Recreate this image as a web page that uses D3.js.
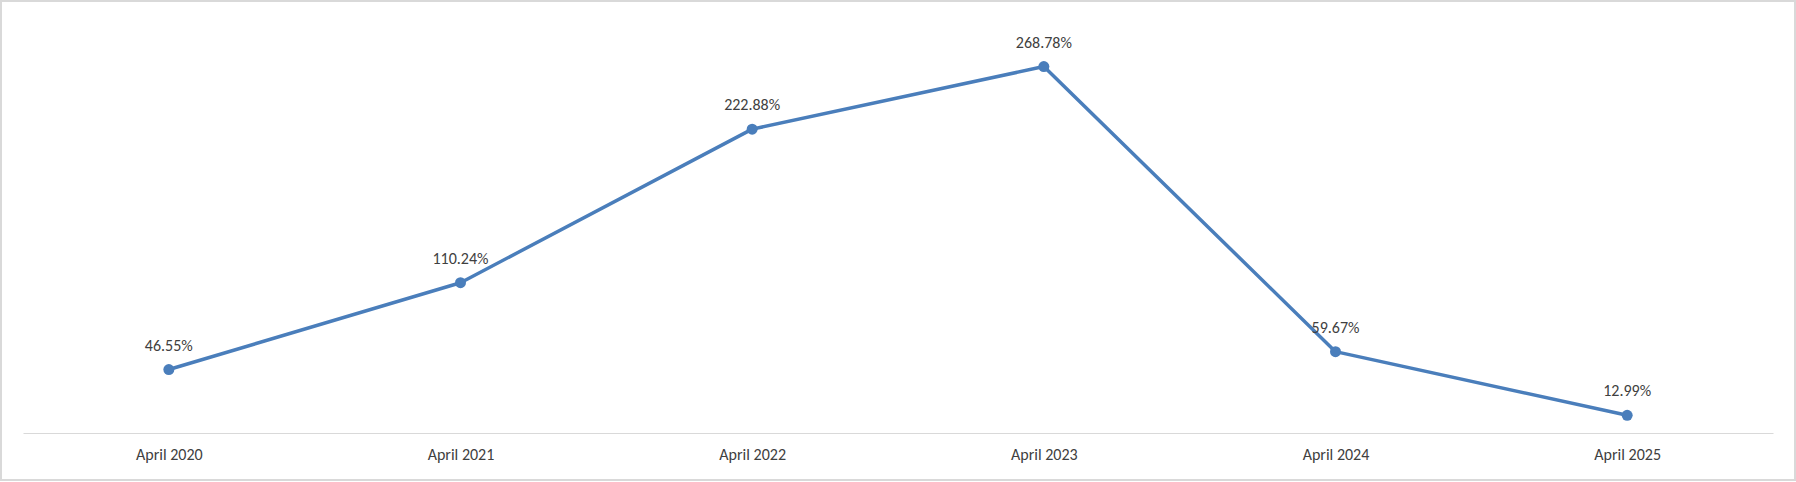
<!DOCTYPE html>
<html>
<head>
<meta charset="utf-8">
<script src="https://cdn.jsdelivr.net/npm/d3@7"></script>
<style>
  body { margin: 0; background: #fff; }
  svg { display: block; }
</style>
</head>
<body>
<svg id="chart" width="1796" height="482"></svg>
<script>
const categories = ["April 2020", "April 2021", "April 2022", "April 2023", "April 2024", "April 2025"]
const values = [46.55, 110.24, 222.88, 268.78, 59.67, 12.99]
const labels = ["46.55%", "110.24%", "222.88%", "268.78%", "59.67%", "12.99%"]

const svg = d3.select("#chart")
const font = "Calibri, Carlito, 'Open Sans', sans-serif"

svg.append("rect")
    .attr("x", 1).attr("y", 1)
    .attr("width", 1794).attr("height", 479)
    .attr("fill", "#fff")
    .attr("stroke", "#d9d9d9")
    .attr("stroke-width", 2)

const x = d3.scalePoint()
    .domain(categories)
    .range([23, 1773])
    .padding(0.5)

const y = d3.scaleLinear()
    .domain([0, 300])
    .range([433, 24])

const xAxis = svg.append("g")
    .attr("transform", "translate(0,433)")
    .call(d3.axisBottom(x).tickSize(0).tickPadding(16))
xAxis.select(".domain").attr("stroke", "#d9d9d9")
xAxis.selectAll("text")
    .attr("font-family", font)
    .attr("font-size", 16)
    .attr("fill", "#404040")

const line = d3.line()
    .x((d, i) => x(categories[i]))
    .y(d => y(d))

svg.append("path")
    .datum(values)
    .attr("d", line)
    .attr("fill", "none")
    .attr("stroke", "#4a7ebb")
    .attr("stroke-width", 3.5)
    .attr("stroke-linejoin", "round")

svg.selectAll(".pt")
    .data(values)
    .enter()
    .append("circle")
    .attr("class", "pt")
    .attr("cx", (d, i) => x(categories[i]))
    .attr("cy", d => y(d))
    .attr("r", 5.5)
    .attr("fill", "#4a7ebb")

svg.selectAll(".lbl")
    .data(values)
    .enter()
    .append("text")
    .attr("class", "lbl")
    .attr("x", (d, i) => x(categories[i]))
    .attr("y", d => y(d) - 19)
    .attr("text-anchor", "middle")
    .attr("font-family", font)
    .attr("font-size", 16)
    .attr("fill", "#404040")
    .text((d, i) => labels[i])
</script>
</body>
</html>
